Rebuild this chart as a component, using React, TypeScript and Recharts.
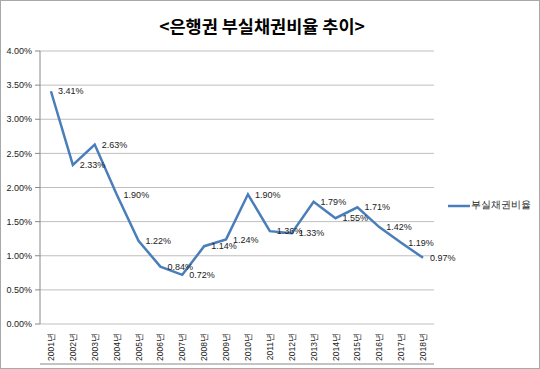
import React from 'react';
import { LineChart, Line, XAxis, YAxis, CartesianGrid, Legend, LabelList } from 'recharts';

const years = ['2001년','2002년','2003년','2004년','2005년','2006년','2007년','2008년','2009년','2010년','2011년','2012년','2013년','2014년','2015년','2016년','2017년','2018년'];
const rates = [3.41, 2.33, 2.63, 1.90, 1.22, 0.84, 0.72, 1.14, 1.24, 1.90, 1.36, 1.33, 1.79, 1.55, 1.71, 1.42, 1.19, 0.97];
const yTicks = [0, 0.5, 1, 1.5, 2, 2.5, 3, 3.5, 4];
const seriesName = '부실채권비율';
const title = '<은행권 부실채권비율 추이>';

const data = years.map((y, i) => ({ x: i + 0.5, year: y, rate: rates[i] }));
const boundaryTicks = years.map((_, i) => i).concat([years.length]);
const centerTicks = years.map((_, i) => i + 0.5);

const FONT = '"Liberation Sans", Arial, sans-serif';
const LINE_COLOR = '#4a7ebb';

const YearTick = (props: any) => {
  const { x, y, payload } = props;
  const idx = Math.round(payload.value - 0.5);
  return (
    <text
      x={x}
      y={y}
      transform={`rotate(-90, ${x}, ${y})`}
      textAnchor="end"
      dominantBaseline="central"
      fontSize={8.5}
      fontFamily={FONT}
      fill="#222"
    >
      {years[idx]}
    </text>
  );
};

const LegendContent = () => (
  <div style={{ display: 'flex', alignItems: 'center', fontFamily: FONT, fontSize: 9.5, color: '#222' }}>
    <svg width={22} height={6}>
      <line x1={0} y1={3} x2={22} y2={3} stroke={LINE_COLOR} strokeWidth={2.5} />
    </svg>
    <span style={{ marginLeft: 1 }}>{seriesName}</span>
  </div>
);

export default function App() {
  return (
    <div
      style={{
        position: 'fixed',
        left: 0,
        top: 0,
        width: 540,
        height: 369,
        background: '#fff',
        boxSizing: 'border-box',
        border: '1px solid #a8a8a8',
        overflow: 'hidden',
      }}
    >
      <div
        style={{
          position: 'absolute',
          left: 0,
          top: 13,
          width: 522,
          textAlign: 'center',
          fontFamily: '"Noto Sans CJK KR", sans-serif',
          fontWeight: 700,
          fontSize: 17.5,
          lineHeight: '24px',
          color: '#000',
        }}
      >
        {title}
      </div>
      <div style={{ position: 'absolute', left: -1, top: -1 }}>
        <LineChart width={540} height={369} data={data} margin={{ top: 51, right: 16, bottom: 0, left: 0 }}>
          <CartesianGrid horizontal vertical={false} stroke="#bfbfbf" strokeWidth={1} />
          <XAxis
            xAxisId="t"
            type="number"
            dataKey="x"
            domain={[0, years.length]}
            ticks={boundaryTicks}
            interval={0}
            tick={false}
            tickSize={5}
            height={5}
            stroke="#888"
            allowDataOverflow
          />
          <XAxis
            xAxisId="lab"
            type="number"
            dataKey="x"
            domain={[0, years.length]}
            ticks={centerTicks}
            interval={0}
            axisLine={false}
            tickLine={false}
            tick={<YearTick />}
            tickMargin={3}
            height={40}
            allowDataOverflow
          />
          <YAxis
            type="number"
            domain={[0, 4]}
            ticks={yTicks}
            interval={0}
            width={40}
            tickSize={5}
            tickMargin={3}
            stroke="#888"
            tick={{ fontSize: 9, fontFamily: FONT, fill: '#222' }}
            tickFormatter={(v: number) => v.toFixed(2) + '%'}
          />
          <Legend
            layout="horizontal"
            verticalAlign="middle"
            align="right"
            content={<LegendContent />}
            wrapperStyle={{ position: 'absolute', left: 448, top: 199, width: 90, right: 'auto', bottom: 'auto' }}
          />
          <Line
            xAxisId="t"
            type="linear"
            dataKey="rate"
            name={seriesName}
            stroke={LINE_COLOR}
            strokeWidth={2.5}
            dot={false}
            activeDot={false}
            isAnimationActive={false}
          >
            <LabelList
              dataKey="rate"
              position="right"
              offset={7}
              formatter={(v: any) => Number(v).toFixed(2) + '%'}
              style={{ fontSize: 9, fontFamily: FONT, fill: '#222' }}
            />
          </Line>
        </LineChart>
      </div>
    </div>
  );
}
